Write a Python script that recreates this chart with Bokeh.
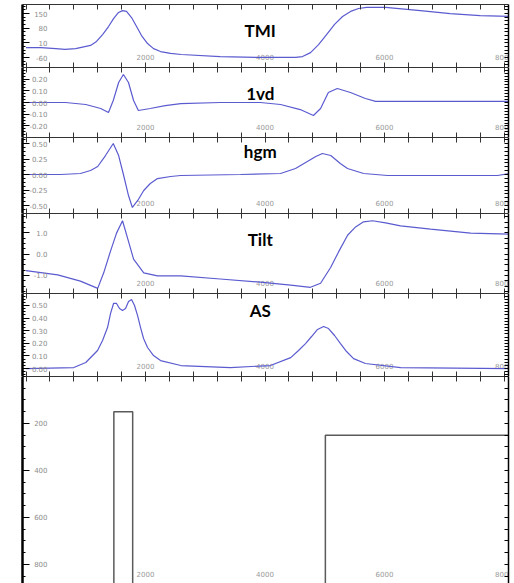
from bokeh.plotting import figure
from bokeh.layouts import column
from bokeh.models import Range1d, LinearAxis, FixedTicker
from bokeh.core.properties import value
from bokeh.embed import file_html
from bokeh.resources import INLINE

# ---------------- data ----------------
dist_ticks = [2000, 4000, 6000, 8000]
dist_labels = ["2000", "4000", "6000", "8000"]

tmi_x = [0, 250, 500, 650, 830, 1080, 1180, 1281, 1381, 1465, 1548, 1615, 1682, 1766, 1850,
         1933, 2034, 2134, 2251, 2419, 2600, 3250, 3900, 4511, 4628, 4762, 4896, 5030, 5164,
         5298, 5432, 5566, 5700, 6018, 6600, 7100, 7600, 8100]
tmi_y = [-12, -12, -17, -21, -17, -2, 17, 50, 88, 126, 155, 164, 160, 131, 88,
         45, 7, -17, -31, -40, -45, -55, -59, -59, -55, -36, 2, 50, 98,
         136, 160, 174, 179, 179, 164, 150, 140, 136]

vd_x = [0, 660, 1000, 1250, 1380, 1460, 1550, 1630, 1715, 1800, 1880, 2080, 2330, 2590,
        3250, 3920, 4260, 4590, 4810, 4930, 5060, 5210, 5430, 5680, 5850, 6600, 8100]
vd_y = [0, 0, -0.017, -0.051, -0.085, 0.017, 0.170, 0.238, 0.170, 0.017, -0.068, -0.051,
        -0.026, -0.009, 0, 0, -0.017, -0.060, -0.111, -0.051, 0.085, 0.119, 0.085, 0.034,
        0.009, 0.009, 0.009]

hgm_x = [0, 580, 910, 1080, 1200, 1330, 1460, 1550, 1630, 1715, 1780, 1870, 1970, 2080,
         2200, 2420, 2590, 3590, 4260, 4510, 4680, 4850, 4960, 5100, 5260, 5380, 5650,
         6050, 7890, 8100]
hgm_y = [0, 0, 0.016, 0.065, 0.129, 0.306, 0.5, 0.306, 0, -0.339, -0.532, -0.419, -0.258,
         -0.145, -0.065, -0.032, -0.016, 0, 0.016, 0.097, 0.194, 0.29, 0.339, 0.306, 0.177,
         0.097, 0.016, -0.016, -0.016, 0.016]

tilt_x = [0, 530, 910, 1200, 1300, 1410, 1515, 1615, 1715, 1800, 1970, 2200, 2590, 3250,
          3920, 4430, 4760, 4930, 5098, 5231, 5382, 5516, 5649, 5800, 6018, 6269, 6771,
          7441, 8100]
tilt_y = [-0.78, -0.98, -1.27, -1.61, -0.88, 0.10, 0.98, 1.56, 0.59, -0.24, -0.88, -1.02,
          -1.02, -1.17, -1.32, -1.46, -1.56, -1.37, -0.63, 0.10, 0.88, 1.27, 1.51, 1.56,
          1.46, 1.32, 1.17, 0.98, 0.93]

as_x = [0, 800, 1000, 1197, 1281, 1364, 1415, 1465, 1515, 1565, 1615, 1666, 1716, 1766,
        1816, 1866, 1917, 1967, 2034, 2134, 2251, 2590, 3420, 4090, 4430, 4561, 4678, 4779,
        4879, 4980, 5063, 5164, 5263, 5365, 5482, 5680, 6270, 8100]
as_y = [0, 0.008, 0.048, 0.143, 0.222, 0.325, 0.437, 0.516, 0.516, 0.476, 0.460, 0.476,
        0.532, 0.548, 0.500, 0.421, 0.325, 0.238, 0.167, 0.103, 0.063, 0.024, 0.008, 0.024,
        0.087, 0.143, 0.198, 0.254, 0.310, 0.333, 0.317, 0.262, 0.198, 0.135, 0.079, 0.040,
        0.008, 0]

tmi_ticks = [150, 80, 10, -60]
tmi_labels = ["150", "80", "10", "-60"]
vd_ticks = [0.2, 0.1, 0.0, -0.1, -0.2]
vd_labels = ["0.20", "0.10", "0.00", "-0.10", "-0.20"]
hgm_ticks = [0.5, 0.25, 0.0, -0.25, -0.5]
hgm_labels = ["0.50", "0.25", "0.00", "-0.25", "-0.50"]
tilt_ticks = [1.0, 0.0, -1.0]
tilt_labels = ["1.0", "0.0", "-1.0"]
as_ticks = [0.5, 0.4, 0.3, 0.2, 0.1, 0.0]
as_labels = ["0.50", "0.40", "0.30", "0.20", "0.10", "0.00"]
depth_ticks = [200, 400, 600, 800]
depth_labels = ["200", "400", "600", "800"]

block_left = [1470, 5010]
block_right = [1785, 8300]
block_top = [150, 250]
block_bottom = [1100, 1100]

panel_titles = ["TMI", "1vd", "hgm", "Tilt", "AS"]

# ---------------- styling ----------------
CURVE = "#5b5bd0"
X_LO, X_HI = -59, 8075
x_range = Range1d(X_LO, X_HI)
x_tick_marks = list(range(0, 8401, 400))


def minor_list(ticks, parts=4):
    t = sorted(ticks)
    step = (t[1] - t[0]) / parts
    out = []
    v = t[0] - 6 * step * parts
    while v <= t[-1] + 6 * step * parts:
        out.append(round(v, 6))
        v += step
    return out


def style_x_axis(ax):
    ax.ticker = FixedTicker(ticks=[], minor_ticks=x_tick_marks)
    ax.minor_tick_in = 5
    ax.minor_tick_out = 0
    ax.axis_line_color = "#333333"
    ax.minor_tick_line_color = "#333333"
    ax.major_label_standoff = 0


def make_panel(ylo, yhi, frame_h, ticks, labels, top_border=0, bottom_axis=True,
               title=None, title_off=0, xlab_off=-11):
    p = figure(frame_width=486, frame_height=frame_h, x_range=x_range,
               y_range=Range1d(ylo, yhi), output_backend="svg", toolbar_location=None,
               x_axis_location=None, min_border_left=22, min_border_right=6,
               min_border_top=top_border, min_border_bottom=0)
    p.outline_line_color = None
    p.xgrid.visible = False
    p.ygrid.visible = False
    p.background_fill_color = "white"

    top = LinearAxis()
    style_x_axis(top)
    p.add_layout(top, "above")
    if bottom_axis:
        bot = LinearAxis()
        style_x_axis(bot)
        p.add_layout(bot, "below")

    ya = p.yaxis[0]
    ya.ticker = FixedTicker(ticks=ticks, minor_ticks=minor_list(ticks))
    ya.major_label_overrides = {t: l for t, l in zip(ticks, labels)}
    ya.axis_line_width = 2.5
    ya.axis_line_color = "black"
    ya.major_tick_in = 7
    ya.major_tick_out = 0
    ya.minor_tick_in = 3
    ya.minor_tick_out = 0
    ya.major_label_text_font_size = "7px"
    ya.major_label_text_color = "#8c8c8c"
    ya.major_label_text_font = "DejaVu Sans"
    ya.major_label_standoff = -25

    ra = LinearAxis(ticker=FixedTicker(ticks=[], minor_ticks=minor_list(ticks)))
    ra.axis_line_width = 1.5
    ra.axis_line_color = "black"
    ra.minor_tick_in = 4
    ra.minor_tick_out = 0
    ra.major_label_standoff = 0
    p.add_layout(ra, "right")

    # distance labels near the bottom of the frame
    p.text(x=dist_ticks, y=[ylo] * len(dist_ticks), text=dist_labels, y_offset=xlab_off,
           text_align="center", text_baseline="middle", text_font_size="7px",
           text_color="#9a9a9a", text_font=value("DejaVu Sans"))
    if title:
        p.text(x=[3920], y=[yhi], text=[title], y_offset=title_off,
               text_align="center", text_baseline="middle", text_font_size="17px",
               text_font=value("Lato"), text_font_style="bold", text_color="black")
    return p


p1 = make_panel(-107, 193, 63, tmi_ticks, tmi_labels, top_border=4,
                title=panel_titles[0], title_off=26)
p1.line(tmi_x, tmi_y, line_color=CURVE, line_width=1.2)

p2 = make_panel(-0.298, 0.298, 70, vd_ticks, vd_labels, title=panel_titles[1], title_off=26)
p2.line(vd_x, vd_y, line_color=CURVE, line_width=1.2)

p3 = make_panel(-0.629, 0.597, 76, hgm_ticks, hgm_labels, title=panel_titles[2], title_off=14)
p3.line(hgm_x, hgm_y, line_color=CURVE, line_width=1.2)

p4 = make_panel(-1.85, 1.90, 80, tilt_ticks, tilt_labels, title=panel_titles[3], title_off=26)
p4.line(tilt_x, tilt_y, line_color=CURVE, line_width=1.2)

p5 = make_panel(-0.063, 0.595, 83, as_ticks, as_labels, title=panel_titles[4], title_off=17)
p5.line(as_x, as_y, line_color=CURVE, line_width=1.2)

p6 = make_panel(881, 0, 207, depth_ticks, depth_labels, bottom_axis=False, xlab_off=-10)
p6.quad(left=block_left, right=block_right, top=block_top, bottom=block_bottom,
        fill_color=None, line_color="#5a5a5a", line_width=1.5)

layout = column(p1, p2, p3, p4, p5, p6, spacing=0)

open("out.html", "w").write(file_html(layout, INLINE))
